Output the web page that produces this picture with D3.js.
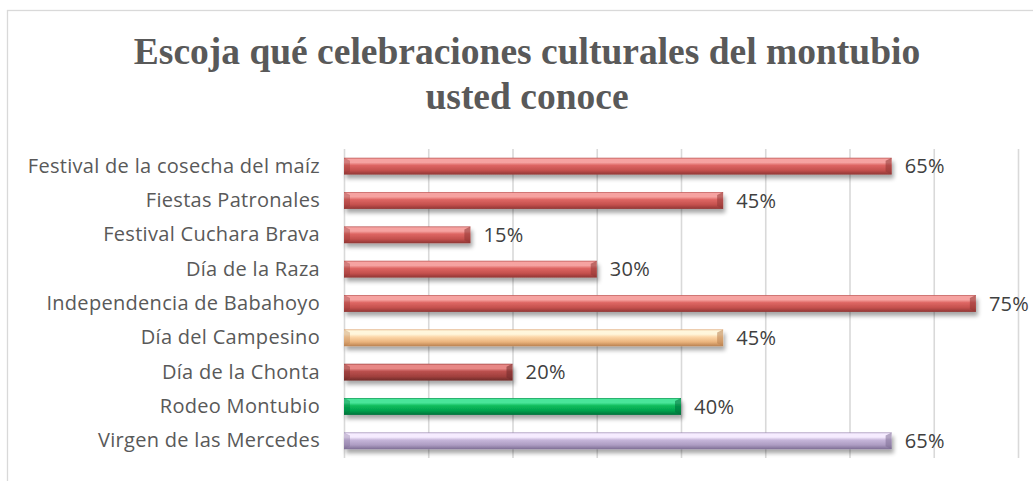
<!DOCTYPE html>
<html>
<head>
<meta charset="utf-8">
<script src="https://cdn.jsdelivr.net/npm/d3@7"></script>
<style>
  html, body { margin: 0; padding: 0; background: #fff; }
  svg { display: block; }
</style>
</head>
<body>
<svg id="chart" width="1033" height="481"></svg>
<script>
// ---- data ----
const titleLines = ["Escoja qué celebraciones culturales del montubio", "usted conoce"];
const categories = [
  "Festival de la cosecha del maíz",
  "Fiestas Patronales",
  "Festival Cuchara Brava",
  "Día de la Raza",
  "Independencia de Babahoyo",
  "Día del Campesino",
  "Día de la Chonta",
  "Rodeo Montubio",
  "Virgen de las Mercedes"
];
const values = [0.65, 0.45, 0.15, 0.30, 0.75, 0.45, 0.20, 0.40, 0.65];
const barColors = ["red", "red", "red", "red", "red", "peach", "darkred", "green", "lavender"];
const gridTicks = [0, 0.1, 0.2, 0.3, 0.4, 0.5, 0.6, 0.7, 0.8];

// gradient palettes (top edge, highlight, main, lower, bottom edge)
const palettes = {
  red:      ["#b9504d", "#f6a3a1", "#de6663", "#c4504d", "#8f3634"],
  peach:    ["#e0a671", "#fff6dc", "#fcd6a8", "#eab37c", "#b98150"],
  darkred:  ["#9c403e", "#e88886", "#bb504e", "#a1403e", "#6f2a29"],
  green:    ["#05924a", "#4ae59a", "#0fbd5d", "#00a24d", "#00703a"],
  lavender: ["#9e8db5", "#f6ecff", "#c6b6da", "#ad9cc2", "#7d6d94"]
};

const svg = d3.select("#chart");
const plot = { left: 344, right: 1018, top: 149, bottom: 458 };

// border
svg.append("rect")
  .attr("x", 7.5).attr("y", 10.5)
  .attr("width", 1100).attr("height", 600)
  .attr("fill", "#fff").attr("stroke", "#d9d9d9").attr("stroke-width", 1.3);

// defs
const defs = svg.append("defs");
Object.entries(palettes).forEach(([k, c]) => {
  const g = defs.append("linearGradient").attr("id", "g-" + k)
    .attr("x1", 0).attr("y1", 0).attr("x2", 0).attr("y2", 1);
  [[0, c[0]], [0.08, c[1]], [0.28, c[1]], [0.45, c[2]], [0.75, c[3]], [1, c[4]]]
    .forEach(([o, col]) => g.append("stop").attr("offset", o).attr("stop-color", col));
});
const f = defs.append("filter").attr("id", "shadow")
  .attr("x", "-5%").attr("y", "-50%").attr("width", "110%").attr("height", "250%");
f.append("feGaussianBlur").attr("in", "SourceAlpha").attr("stdDeviation", 2.2);
f.append("feOffset").attr("dx", 1.5).attr("dy", 3.5).attr("result", "ob");
f.append("feComponentTransfer").append("feFuncA").attr("type", "linear").attr("slope", 0.35);
const m = f.append("feMerge");
m.append("feMergeNode");
m.append("feMergeNode").attr("in", "SourceGraphic");

// scales
const x = d3.scaleLinear().domain([0, 0.8]).range([plot.left, plot.right]);
const y = d3.scaleBand().domain(categories).range([plot.top, plot.bottom]).padding(0);
const barH = y.bandwidth() * 0.49;

// title
const title = svg.append("text")
  .attr("text-anchor", "middle")
  .attr("font-family", "'Liberation Serif', 'Times New Roman', serif")
  .attr("font-weight", "bold")
  .attr("font-size", 37.5)
  .attr("fill", "#595959");
titleLines.forEach((t, i) => {
  title.append("tspan").attr("x", 527).attr("y", 64 + i * 45).text(t);
});

// gridlines
const grid = svg.append("g")
  .attr("transform", `translate(0,${plot.bottom})`)
  .call(d3.axisBottom(x).tickValues(gridTicks).tickFormat("").tickSize(-(plot.bottom - plot.top)));
grid.select(".domain").remove();
grid.selectAll(".tick line").attr("stroke", "#d9d9d9").attr("stroke-width", 1.6);

// y axis labels
const yAxis = svg.append("g")
  .attr("transform", `translate(${plot.left},0)`)
  .call(d3.axisLeft(y).tickSize(0).tickPadding(24));
yAxis.select(".domain").remove();
yAxis.selectAll("text")
  .attr("font-family", "'Open Sans', Lato, sans-serif")
  .attr("font-size", 20)
  .attr("letter-spacing", 0.3)
  .attr("fill", "#595959");

// bars
const bars = svg.append("g").selectAll("g.bar")
  .data(categories.map((c, i) => ({ c, v: values[i], col: barColors[i] })))
  .join("g").attr("class", "bar")
  .attr("filter", "url(#shadow)");

bars.append("rect")
  .attr("x", x(0))
  .attr("y", d => y(d.c) + (y.bandwidth() - barH) / 2)
  .attr("width", d => x(d.v) - x(0))
  .attr("height", barH)
  .attr("fill", d => `url(#g-${d.col})`);

// bevel at right end and left end
bars.append("path")
  .attr("d", d => {
    const x1 = x(d.v), y0 = y(d.c) + (y.bandwidth() - barH) / 2;
    const b = 6;
    return `M${x1},${y0} L${x1},${y0 + barH} L${x1 - b},${y0 + barH - 3} L${x1 - b},${y0 + b * 0.5} Z`;
  })
  .attr("fill", d => palettes[d.col][4]).attr("opacity", 0.55);
bars.append("path")
  .attr("d", d => {
    const x0 = x(0), y0 = y(d.c) + (y.bandwidth() - barH) / 2;
    const b = 6;
    return `M${x0},${y0} L${x0 + b},${y0 + b * 0.5} L${x0 + b},${y0 + barH - 3} L${x0},${y0 + barH} Z`;
  })
  .attr("fill", d => palettes[d.col][4]).attr("opacity", 0.35);

// value labels
svg.append("g").selectAll("text")
  .data(categories.map((c, i) => ({ c, v: values[i] })))
  .join("text")
  .attr("x", d => x(d.v) + 13)
  .attr("y", d => y(d.c) + y.bandwidth() / 2)
  .attr("dy", "0.36em")
  .attr("font-family", "'Open Sans', Lato, sans-serif")
  .attr("font-size", 20)
  .attr("letter-spacing", 0.3)
  .attr("fill", "#404040")
  .text(d => d3.format(".0%")(d.v));
</script>
</body>
</html>
